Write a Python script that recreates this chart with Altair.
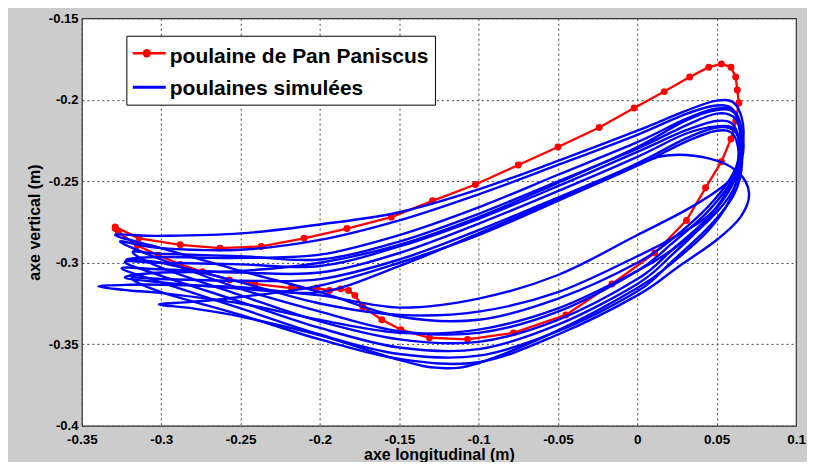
import altair as alt
import pandas as pd

# ---------------- data ----------------
x_ticks = [-0.35, -0.3, -0.25, -0.2, -0.15, -0.1, -0.05, 0, 0.05, 0.1]
y_ticks = [-0.4, -0.35, -0.3, -0.25, -0.2, -0.15]

red_x = [-0.329, -0.314, -0.288, -0.263, -0.237, -0.210, -0.183, -0.155, -0.129, -0.102,
         -0.075, -0.050, -0.024, -0.002, 0.017, 0.033, 0.045, 0.053, 0.059, 0.062,
         0.063, 0.064, 0.062, 0.059, 0.053, 0.043, 0.031, 0.011, -0.016, -0.045,
         -0.078, -0.107, -0.131, -0.149, -0.161, -0.173, -0.178, -0.182, -0.187, -0.194,
         -0.202, -0.218, -0.241, -0.257, -0.274, -0.288, -0.302, -0.315, -0.327, -0.329]
red_y = [-0.278, -0.285, -0.289, -0.291, -0.290, -0.285, -0.279, -0.272, -0.262, -0.252,
         -0.240, -0.229, -0.217, -0.205, -0.195, -0.186, -0.180, -0.178, -0.180, -0.186,
         -0.194, -0.202, -0.213, -0.224, -0.238, -0.254, -0.274, -0.294, -0.313, -0.332,
         -0.343, -0.347, -0.346, -0.341, -0.335, -0.327, -0.320, -0.317, -0.316, -0.317,
         -0.3155, -0.3155, -0.313, -0.3105, -0.3055, -0.301, -0.2954, -0.2894, -0.2814, -0.279]

loop1_x = [-0.329, -0.30, -0.25, -0.20, -0.15, -0.10, -0.05, 0.00, 0.03, 0.05, 0.062, 0.067, 0.062, 0.048, 0.025, 0.00, -0.05, -0.10, -0.15, -0.20, -0.25, -0.30]
loop1_y = [-0.283, -0.2835, -0.282, -0.2765, -0.269, -0.255, -0.2375, -0.219, -0.207, -0.2005, -0.203, -0.220, -0.242, -0.262, -0.283, -0.300, -0.322, -0.335, -0.333, -0.318, -0.305, -0.291]

loop2_x = [-0.326, -0.30, -0.25, -0.20, -0.15, -0.10, -0.05, 0.00, 0.03, 0.05, 0.061, 0.065, 0.060, 0.045, 0.022, 0.00, -0.05, -0.10, -0.15, -0.20, -0.25, -0.30]
loop2_y = [-0.287, -0.291, -0.292, -0.286, -0.274, -0.258, -0.240, -0.2215, -0.209, -0.2035, -0.207, -0.226, -0.248, -0.268, -0.288, -0.305, -0.330, -0.343, -0.342, -0.330, -0.316, -0.298]

loop3_x = [-0.318, -0.30, -0.25, -0.20, -0.15, -0.10, -0.05, 0.00, 0.03, 0.05, 0.062, 0.066, 0.060, 0.045, 0.022, 0.00, -0.05, -0.10, -0.15, -0.20, -0.25, -0.30]
loop3_y = [-0.2934, -0.2945, -0.296, -0.298, -0.287, -0.270, -0.250, -0.230, -0.216, -0.2085, -0.212, -0.230, -0.252, -0.272, -0.292, -0.310, -0.335, -0.3485, -0.347, -0.336, -0.320, -0.303]

loop4_x = [-0.323, -0.30, -0.25, -0.20, -0.15, -0.10, -0.05, 0.00, 0.03, 0.05, 0.061, 0.064, 0.058, 0.044, 0.022, 0.00, -0.05, -0.10, -0.15, -0.20, -0.25, -0.30]
loop4_y = [-0.2995, -0.300, -0.301, -0.302, -0.290, -0.273, -0.253, -0.232, -0.219, -0.213, -0.216, -0.233, -0.254, -0.274, -0.295, -0.313, -0.338, -0.353, -0.352, -0.340, -0.324, -0.308]

loop5_x = [-0.325, -0.30, -0.25, -0.20, -0.15, -0.10, -0.05, 0.00, 0.03, 0.05, 0.062, 0.066, 0.061, 0.046, 0.022, 0.00, -0.05, -0.10, -0.15, -0.20, -0.25, -0.30]
loop5_y = [-0.3034, -0.304, -0.306, -0.306, -0.294, -0.276, -0.256, -0.235, -0.221, -0.2163, -0.219, -0.238, -0.258, -0.277, -0.299, -0.3175, -0.342, -0.357, -0.356, -0.344, -0.328, -0.312]

loop6_x = [-0.3187, -0.30, -0.25, -0.20, -0.15, -0.10, -0.05, 0.00, 0.02, 0.045, 0.063, 0.0704, 0.065, 0.050, 0.025, 0.00, -0.05, -0.10, -0.15, -0.20, -0.25, -0.30]
loop6_y = [-0.3094, -0.310, -0.311, -0.310, -0.298, -0.280, -0.260, -0.240, -0.234, -0.236, -0.244, -0.2574, -0.272, -0.286, -0.303, -0.320, -0.344, -0.361, -0.359, -0.347, -0.332, -0.318]

loop7_x = [-0.3397, -0.32, -0.30, -0.25, -0.20, -0.15, -0.10, -0.05, 0.00, 0.03, 0.05, 0.062, 0.066, 0.060, 0.045, 0.022, 0.00, -0.05, -0.10, -0.15, -0.20, -0.25, -0.30, -0.32]
loop7_y = [-0.3145, -0.3135, -0.3135, -0.315, -0.318, -0.302, -0.282, -0.261, -0.239, -0.224, -0.217, -0.220, -0.236, -0.256, -0.274, -0.292, -0.305, -0.328, -0.341, -0.343, -0.335, -0.325, -0.3185, -0.317]

loop8_x = [-0.3015, -0.28, -0.25, -0.20, -0.15, -0.10, -0.05, 0.00, 0.03, 0.05, 0.061, 0.064, 0.058, 0.044, 0.022, 0.00, -0.05, -0.10, -0.125, -0.15, -0.20, -0.25, -0.28]
loop8_y = [-0.3255, -0.324, -0.321, -0.314, -0.300, -0.283, -0.262, -0.2405, -0.226, -0.219, -0.222, -0.240, -0.262, -0.281, -0.300, -0.3155, -0.3415, -0.3615, -0.3645, -0.3596, -0.3445, -0.333, -0.328]

loop9_x = [-0.323, -0.30, -0.25, -0.20, -0.15, -0.10, -0.05, 0.00, 0.03, 0.05, 0.062, 0.067, 0.062, 0.050, 0.030, 0.00, -0.05, -0.10, -0.15, -0.20, -0.25, -0.30]
loop9_y = [-0.309, -0.306, -0.305, -0.300, -0.289, -0.272, -0.251, -0.229, -0.213, -0.2063, -0.209, -0.228, -0.245, -0.256, -0.268, -0.283, -0.3075, -0.322, -0.3275, -0.320, -0.316, -0.312]

loop10_x = [-0.322, -0.30, -0.25, -0.20, -0.15, -0.10, -0.05, 0.00, 0.03, 0.05, 0.062, 0.066, 0.060, 0.046, 0.022, 0.00, -0.05, -0.10, -0.15, -0.20, -0.25, -0.30]
loop10_y = [-0.298, -0.2965, -0.297, -0.295, -0.283, -0.266, -0.246, -0.226, -0.212, -0.2053, -0.208, -0.226, -0.249, -0.270, -0.285, -0.296, -0.318, -0.330, -0.332, -0.325, -0.312, -0.300]

blue_loops = [(loop1_x, loop1_y), (loop2_x, loop2_y), (loop3_x, loop3_y), (loop4_x, loop4_y),
              (loop5_x, loop5_y), (loop6_x, loop6_y), (loop7_x, loop7_y), (loop8_x, loop8_y),
              (loop9_x, loop9_y), (loop10_x, loop10_y)]

legend_labels = ["poulaine de Pan Paniscus", "poulaines simulées"]
x_title = "axe longitudinal (m)"
y_title = "axe vertical (m)"

# ---------------- tables ----------------
rows = []
for k, (xs, ys) in enumerate(blue_loops):
    for i, (xv, yv) in enumerate(zip(xs, ys)):
        rows.append({"loop": k, "i": i, "x": xv, "y": yv})
blue_df = pd.DataFrame(rows)
red_df = pd.DataFrame({"i": list(range(len(red_x))), "x": red_x, "y": red_y})
one = pd.DataFrame({"k": [0]})

FONT = "Liberation Sans"
xscale = alt.Scale(domain=[-0.35, 0.1], nice=False, zero=False)
yscale = alt.Scale(domain=[-0.4, -0.15], nice=False, zero=False)

xaxis = alt.Axis(values=x_ticks, labelExpr="'' + datum.value", title=x_title,
                 grid=True, ticks=False, domain=False, labelPadding=7,
                 labelFont=FONT, labelFontSize=13.5, labelFontWeight="bold", labelColor="black",
                 titleFont=FONT, titleFontSize=16, titleFontWeight="bold", titleColor="black",
                 titleY=33.5, titleBaseline="alphabetic", labelFlush=False, labelOverlap=False)
yaxis = alt.Axis(values=y_ticks, labelExpr="'' + datum.value", title=y_title,
                 grid=True, ticks=False, domain=False, labelPadding=4,
                 labelFont=FONT, labelFontSize=13, labelFontWeight="bold", labelColor="black",
                 titleFont=FONT, titleFontSize=16, titleFontWeight="bold", titleColor="black",
                 titleX=-42, titleBaseline="alphabetic", labelFlush=False, labelOverlap=False)

red_line = alt.Chart(red_df).mark_line(color="#ff0000", strokeWidth=2.3).encode(
    x=alt.X("x:Q", scale=xscale, axis=xaxis),
    y=alt.Y("y:Q", scale=yscale, axis=yaxis),
    order=alt.Order("i:Q"),
)
red_pts = alt.Chart(red_df).mark_circle(color="#ff0000", size=48, opacity=1).encode(
    x=alt.X("x:Q", scale=xscale),
    y=alt.Y("y:Q", scale=yscale),
)
blue = alt.Chart(blue_df).mark_line(color="#0000ff", strokeWidth=2.4,
                                    interpolate="cardinal-closed").encode(
    x=alt.X("x:Q", scale=xscale),
    y=alt.Y("y:Q", scale=yscale),
    detail="loop:N",
    order=alt.Order("i:Q"),
)

# legend box (positions in pixels of the plot area)
leg_box = alt.Chart(one).mark_rect(fill="white", stroke="black", strokeWidth=1).encode(
    x=alt.value(45), x2=alt.value(354), y=alt.value(18), y2=alt.value(87))
leg_red = alt.Chart(one).mark_rule(color="#ff0000", strokeWidth=2.5).encode(
    x=alt.value(51), x2=alt.value(84), y=alt.value(35))
leg_red_pt = alt.Chart(one).mark_circle(color="#ff0000", size=70, opacity=1).encode(
    x=alt.value(65), y=alt.value(35))
leg_blue = alt.Chart(one).mark_rule(color="#0000ff", strokeWidth=3).encode(
    x=alt.value(51), x2=alt.value(84), y=alt.value(69))
leg_t1 = alt.Chart(one).mark_text(align="left", baseline="alphabetic", font=FONT, fontSize=21,
                                  fontWeight="bold", color="black").encode(
    x=alt.value(88), y=alt.value(45), text=alt.value(legend_labels[0]))
leg_t2 = alt.Chart(one).mark_text(align="left", baseline="alphabetic", font=FONT, fontSize=21,
                                  fontWeight="bold", color="black").encode(
    x=alt.value(88), y=alt.value(77), text=alt.value(legend_labels[1]))

chart = alt.layer(red_line, red_pts, blue, leg_box, leg_red, leg_red_pt, leg_blue, leg_t1, leg_t2).properties(
    width=715, height=408,
    autosize=alt.AutoSizeParams(type="none"),
    padding={"left": 74, "top": 10, "right": 11, "bottom": 36},
    background="#cccccc",
).configure_view(
    fill="white", stroke="#333333", strokeWidth=1.2
).configure_axis(
    gridColor="#444444", gridDash=[2, 3], gridWidth=1, gridOpacity=1
)

chart.save("out.html", embed_options={"renderer": "svg", "actions": False})
